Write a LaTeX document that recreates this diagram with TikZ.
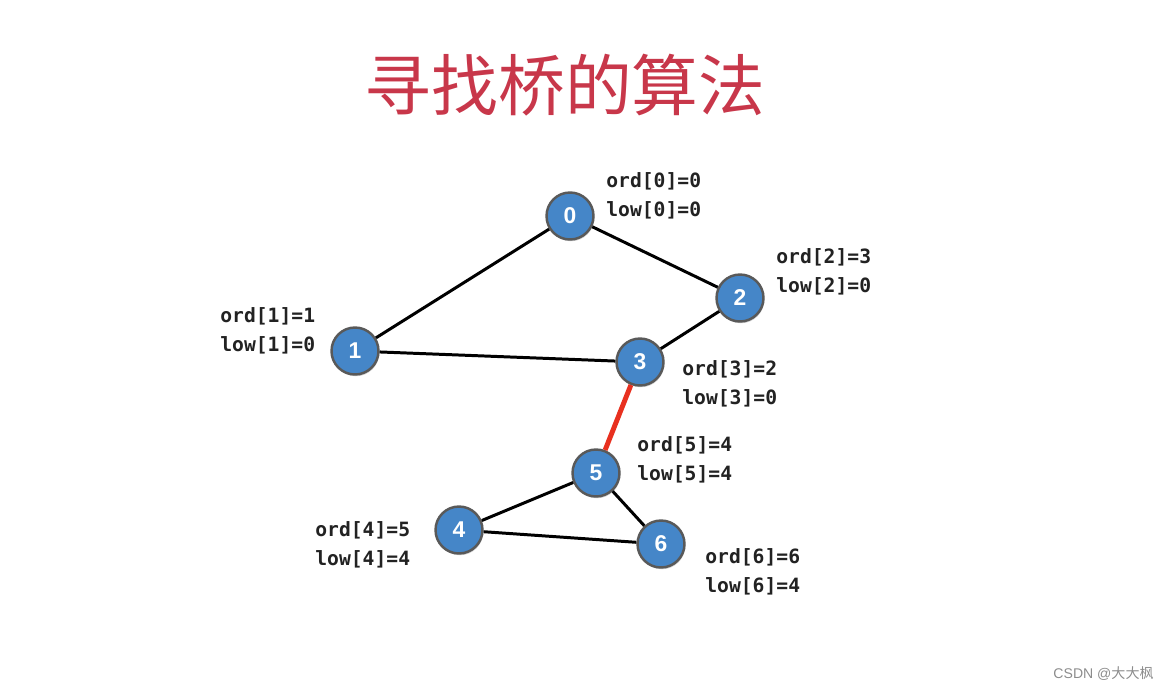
\documentclass[tikz,border=0pt]{standalone}
\usepackage{fontspec}
\setmainfont{Liberation Sans}
\newfontfamily\cjk{Noto Sans CJK SC}
\newfontfamily\lblfont{DejaVu Sans Mono}
\usetikzlibrary{shadows}
\definecolor{nodeblue}{HTML}{4586C8}
\definecolor{titlered}{HTML}{C8374A}
\definecolor{bridgered}{HTML}{E8301F}
\definecolor{lbl}{HTML}{222222}
\begin{document}
\begin{tikzpicture}[x=0.02cm,y=-0.02cm,
  vert/.style={circle,draw=black!65,line width=1.4pt,fill=nodeblue,minimum size=0.94cm,inner sep=0pt,text=white,font=\fontsize{13}{14}\selectfont\bfseries,drop shadow={opacity=0.35,shadow xshift=0.5pt,shadow yshift=-1pt}},
  edge/.style={line width=1.7pt,black},
  info/.style={anchor=west,align=left,text=lbl,inner sep=0pt,font=\lblfont\fontsize{11.2}{16.5}\selectfont\bfseries}]
\useasboundingbox (0,0) rectangle (1169,690);
\node[text=titlered,font=\cjk\fontsize{38}{40}\selectfont] (t) at (565,85) {寻找桥的算法};
\node[vert] (n0) at (570,216) {0};
\node[vert] (n2) at (740,298) {2};
\node[vert] (n1) at (355,351) {1};
\node[vert] (n3) at (640,362) {3};
\node[vert] (n5) at (596,473) {5};
\node[vert] (n4) at (459,530) {4};
\node[vert] (n6) at (661,544) {6};
\begin{scope}[on background layer/.style={}]
\end{scope}
\draw[edge] (n0) -- (n1);
\draw[edge] (n0) -- (n2);
\draw[edge] (n2) -- (n3);
\draw[edge] (n1) -- (n3);
\draw[line width=2.8pt,bridgered] (n3) -- (n5);
\draw[edge] (n5) -- (n4);
\draw[edge] (n5) -- (n6);
\draw[edge] (n4) -- (n6);
\node[info] (l0) at (606,196) {ord[0]=0\\low[0]=0};
\node[info] (l2) at (776,272) {ord[2]=3\\low[2]=0};
\node[info] (l1) at (220,331) {ord[1]=1\\low[1]=0};
\node[info] (l3) at (682,384) {ord[3]=2\\low[3]=0};
\node[info] (l5) at (637,460) {ord[5]=4\\low[5]=4};
\node[info] (l4) at (315,545) {ord[4]=5\\low[4]=4};
\node[info] (l6) at (705,572) {ord[6]=6\\low[6]=4};
\node[text=black!45,font=\fontsize{8}{9}\selectfont,anchor=east,inner sep=0pt] (wm) at (1154,674) {CSDN @\cjk 大大枫};
\end{tikzpicture}
\end{document}
